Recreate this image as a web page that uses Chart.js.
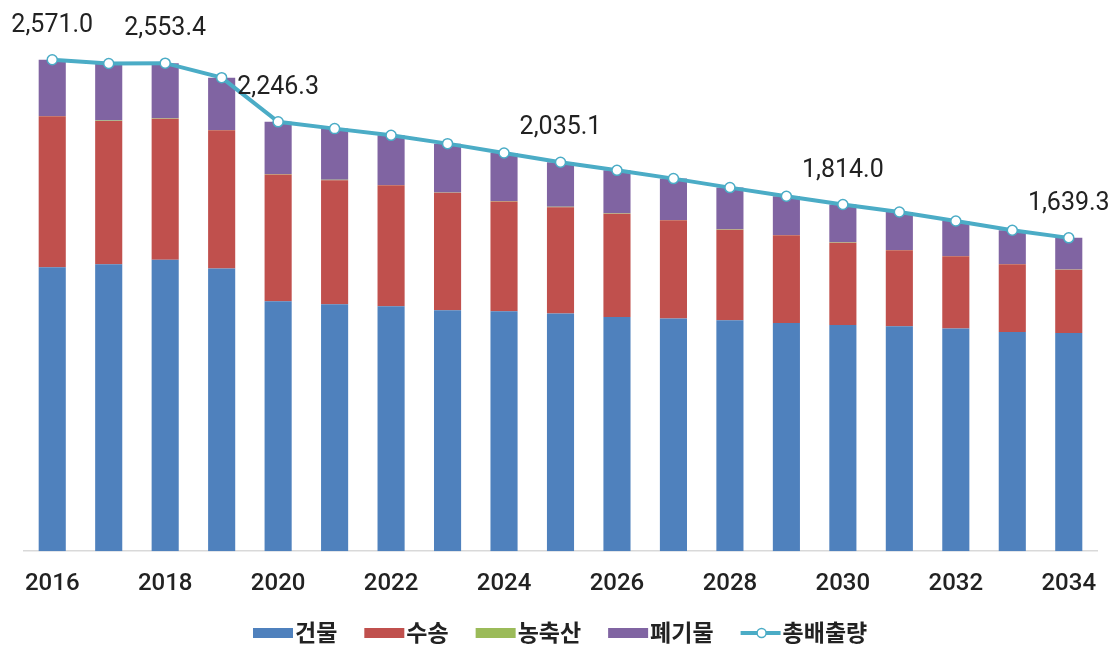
<!DOCTYPE html>
<html>
<head>
<meta charset="utf-8">
<script src="https://cdn.jsdelivr.net/npm/chart.js@4.4.0/dist/chart.umd.min.js"></script>
<style>
  body { margin: 0; background: #fff; }
  canvas { display: block; }
</style>
</head>
<body>
<canvas id="chart" width="1120" height="645"></canvas>
<script>
var years = ["2016", "2017", "2018", "2019", "2020", "2021", "2022", "2023", "2024", "2025",
             "2026", "2027", "2028", "2029", "2030", "2031", "2032", "2033", "2034"];

// 건물, 수송, 농축산, 폐기물 (stacked bars)
var building  = [1486, 1501, 1525, 1479, 1308, 1292, 1281, 1261, 1255, 1243, 1225, 1217, 1208, 1194, 1184, 1177, 1165, 1147, 1142];
var transport = [789, 750, 738, 723, 663, 649, 633, 614, 575, 557, 541, 514, 474, 459, 430, 397, 378, 354, 330];
var agri      = [1.8, 1.8, 1.8, 1.8, 1.8, 1.8, 1.8, 1.8, 1.8, 1.8, 1.8, 1.8, 1.8, 1.8, 1.8, 1.8, 1.8, 1.8, 1.8];
var waste     = [294.2, 298.4, 288.6, 273.7, 273.5, 268.0, 259.9, 255.5, 251.4, 233.3, 224.9, 216.5, 218.4, 201.9, 198.2, 198.8, 182.7, 176.1, 165.5];

// 총배출량 (line)
var totals = [2571.0, 2551.2, 2553.4, 2477.5, 2246.3, 2210.8, 2175.7, 2132.3, 2083.2, 2035.1,
              1992.7, 1949.3, 1902.2, 1856.7, 1814.0, 1774.6, 1727.5, 1678.9, 1639.3];

// which totals get a number printed above them
var labelIdx = [0, 2, 4, 9, 14, 18];

var textColor = "#222222";

// prints the selected totals above the line points
var totalLabels = {
    id: "totalLabels",
    afterDatasetsDraw: function(chart) {
        var meta = chart.getDatasetMeta(4);
        var ctx = chart.ctx;
        ctx.save();
        ctx.font = "400 25px Roboto";
        ctx.fillStyle = textColor;
        ctx.textAlign = "center";
        ctx.textBaseline = "middle";
        for (let i = 0; i < labelIdx.length; i++) {
            var idx = labelIdx[i];
            var pt = meta.data[idx];
            var txt = totals[idx].toLocaleString("en-US", { minimumFractionDigits: 1, maximumFractionDigits: 1 });
            ctx.fillText(txt, pt.x, pt.y - 34);
        }
        ctx.restore();
    }
};

// bottom legend: boxes for the bars, line+circle for the total
var bottomLegend = {
    id: "bottomLegend",
    afterDraw: function(chart) {
        var ctx = chart.ctx;
        var sets = chart.data.datasets;
        var x = 253;
        var y = 632;
        ctx.save();
        ctx.font = "700 23px 'Noto Sans CJK KR'";
        ctx.textBaseline = "middle";
        ctx.textAlign = "left";
        for (let i = 0; i < sets.length; i++) {
            var ds = sets[i];
            if (ds.type === "line") {
                ctx.strokeStyle = ds.borderColor;
                ctx.lineWidth = 4;
                ctx.beginPath();
                ctx.moveTo(x, y + 1);
                ctx.lineTo(x + 40, y + 1);
                ctx.stroke();
                ctx.beginPath();
                ctx.arc(x + 21, y + 1, 4.5, 0, Math.PI * 2);
                ctx.fillStyle = "#ffffff";
                ctx.fill();
                ctx.lineWidth = 1.5;
                ctx.stroke();
            } else {
                ctx.fillStyle = ds.backgroundColor;
                ctx.fillRect(x, y - 4, 40, 10);
            }
            ctx.fillStyle = textColor;
            ctx.fillText(ds.label, x + 42, y);
            x += 42 + ctx.measureText(ds.label).width + 27;
        }
        ctx.restore();
    }
};

var ctx = document.getElementById("chart").getContext("2d");

var chart = new Chart(ctx, {
    type: "bar",
    data: {
        labels: years,
        datasets: [
            { label: "건물", data: building, backgroundColor: "#4F81BD", order: 1 },
            { label: "수송", data: transport, backgroundColor: "#C0504D", order: 1 },
            { label: "농축산", data: agri, backgroundColor: "#9BBB59", order: 1 },
            { label: "폐기물", data: waste, backgroundColor: "#8064A2", order: 1 },
            {
                type: "line",
                label: "총배출량",
                data: totals,
                stack: "total",
                order: 0,
                borderColor: "#4BACC6",
                borderWidth: 4,
                backgroundColor: "#4BACC6",
                pointRadius: 5,
                pointBackgroundColor: "#ffffff",
                pointBorderColor: "#4BACC6",
                pointBorderWidth: 1.5,
                tension: 0
            }
        ]
    },
    options: {
        responsive: false,
        animation: false,
        layout: { padding: { left: 24, right: 23, top: 16, bottom: 29 } },
        datasets: {
            bar: { categoryPercentage: 1.0, barPercentage: 0.48, borderWidth: 0 }
        },
        plugins: {
            legend: { display: false },
            tooltip: { enabled: false }
        },
        scales: {
            x: {
                stacked: true,
                grid: { display: false, drawTicks: false },
                border: { display: true, color: "#d9d9d9", width: 1.5 },
                ticks: {
                    autoSkip: false,
                    maxRotation: 0,
                    padding: 18,
                    color: textColor,
                    font: { family: "Roboto", size: 24, weight: "500" },
                    callback: function(value, index) {
                        return index % 2 === 0 ? years[index] : "";
                    }
                }
            },
            y: {
                stacked: true,
                display: false,
                min: 0,
                max: 2800
            }
        }
    },
    plugins: [totalLabels, bottomLegend]
});
</script>
</body>
</html>
